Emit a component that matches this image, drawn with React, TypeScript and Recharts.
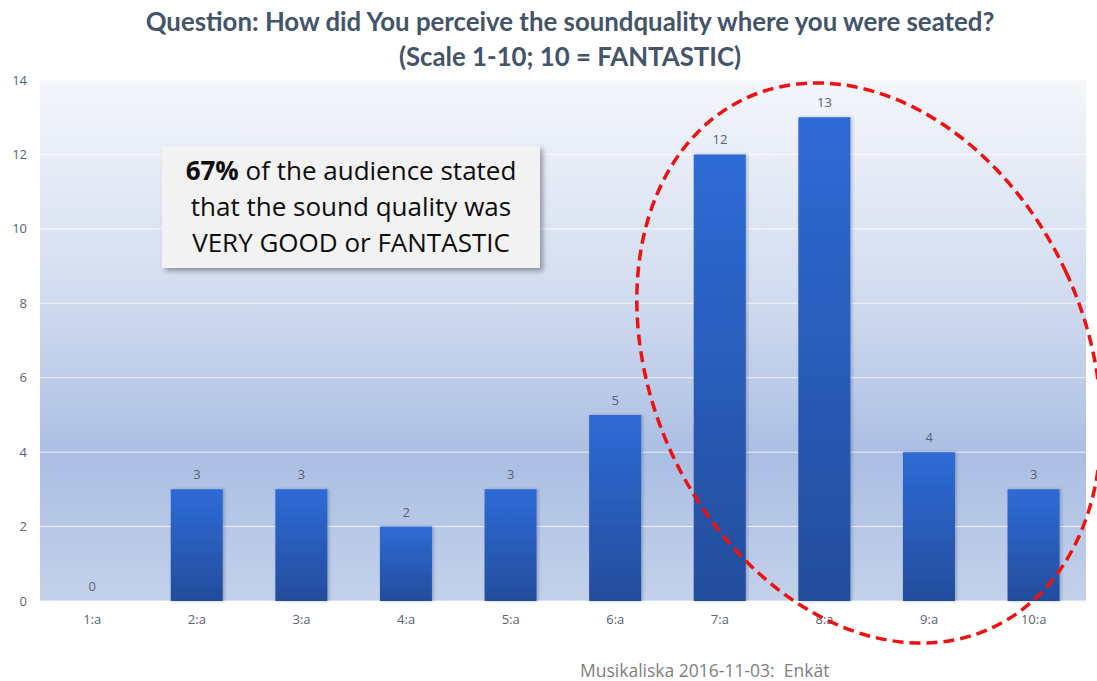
import { ComposedChart, Bar, Line, XAxis, YAxis, CartesianGrid, LabelList } from "recharts";

const categories = ["1:a", "2:a", "3:a", "4:a", "5:a", "6:a", "7:a", "8:a", "9:a", "10:a"];
const answers = [0, 3, 3, 2, 3, 5, 12, 13, 4, 3];
const yTicks = [0, 2, 4, 6, 8, 10, 12, 14];

const titleLines = [
    "Question: How did You perceive the soundquality where you were seated?",
    "(Scale 1-10; 10 = FANTASTIC)",
];
const footer = "Musikaliska 2016-11-03:  Enkät";

const W = 1097;
const H = 681;
const font = "'Open Sans', sans-serif";

export default function App() {
    // recharts wants row objects
    const data = categories.map((name, i) => ({ name, value: answers[i] }));

    return (
        <div style={{ position: "absolute", left: 0, top: 0, width: W, height: H, background: "#fff", fontFamily: font, overflow: "hidden" }}>
            <div style={{ position: "absolute", left: 0, top: 4, width: 1140, textAlign: "center", color: "#44546A", fontFamily: "Lato, sans-serif", fontWeight: 700, fontSize: 25.8, lineHeight: "35px" }}>
                {titleLines.map((t) => (
                    <div key={t}>{t}</div>
                ))}
            </div>

            <div style={{ position: "absolute", left: 0, top: 0 }}>
                <ComposedChart width={W} height={H} data={data} margin={{ top: 80, right: 11, left: 0, bottom: 50 }} barCategoryGap="25%">
                    <defs>
                        <linearGradient id="bgFill" x1="0" y1="0" x2="0" y2="1">
                            <stop offset="0%" stopColor="#f4f6fb" />
                            <stop offset="40%" stopColor="#d3ddf0" />
                            <stop offset="72%" stopColor="#abbee3" />
                            <stop offset="100%" stopColor="#c3d1ea" />
                        </linearGradient>
                        <linearGradient id="barFill" x1="0" y1="0" x2="0" y2="1">
                            <stop offset="0%" stopColor="#2e6bd6" />
                            <stop offset="100%" stopColor="#234d9c" />
                        </linearGradient>
                        <filter id="barShadow" x="-20%" y="-5%" width="140%" height="110%">
                            <feDropShadow dx="1.5" dy="0" stdDeviation="1.5" floodColor="#1a2a50" floodOpacity="0.3" />
                        </filter>
                    </defs>
                    <CartesianGrid vertical={false} fill="url(#bgFill)" stroke="#ffffff" strokeOpacity={0.75} />
                    <XAxis
                        dataKey="name"
                        axisLine={false}
                        tickLine={false}
                        tickSize={0}
                        tickMargin={14}
                        height={30}
                        tick={{ fill: "#5a6275", fontSize: 13, fontFamily: font }}
                    />
                    <YAxis
                        width={40}
                        domain={[0, 14]}
                        ticks={yTicks}
                        axisLine={false}
                        tickLine={false}
                        tickSize={0}
                        tickMargin={13}
                        tick={{ fill: "#5a6275", fontSize: 13, fontFamily: font }}
                    />
                    <Bar dataKey="value" fill="url(#barFill)" filter="url(#barShadow)" maxBarSize={53} isAnimationActive={false} />
                    {/* invisible line only to carry the value labels (bars of 0 get no label) */}
                    <Line dataKey="value" stroke="none" dot={false} activeDot={false} isAnimationActive={false}>
                        <LabelList dataKey="value" position="top" offset={10} fill="#5a6275" fontSize={13} fontFamily={font} />
                    </Line>
                </ComposedChart>
            </div>

            {/* annotation box */}
            <div style={{ position: "absolute", left: 162, top: 146, width: 378, height: 122, background: "#f2f2f2", boxShadow: "3px 3px 5px rgba(0,0,0,0.35)", textAlign: "center", fontSize: 26, lineHeight: "36px", color: "#0d0d0d", paddingTop: 6, boxSizing: "border-box" }}>
                <div><b>67%</b> of the audience stated</div>
                <div>that the sound quality was</div>
                <div>VERY GOOD or FANTASTIC</div>
            </div>

            {/* red dashed ring around 7:a to 10:a */}
            <svg width={W} height={H} style={{ position: "absolute", left: 0, top: 0, pointerEvents: "none" }}>
                <ellipse cx={869} cy={363} rx={217} ry={292} transform="rotate(-25 869 363)" fill="none" stroke="#ee1111" strokeWidth={3.5} strokeDasharray="11 6" />
            </svg>

            <div style={{ position: "absolute", left: 580, top: 660, fontSize: 17.5, lineHeight: "20px", color: "#808080", whiteSpace: "pre" }}>{footer}</div>
        </div>
    );
}
